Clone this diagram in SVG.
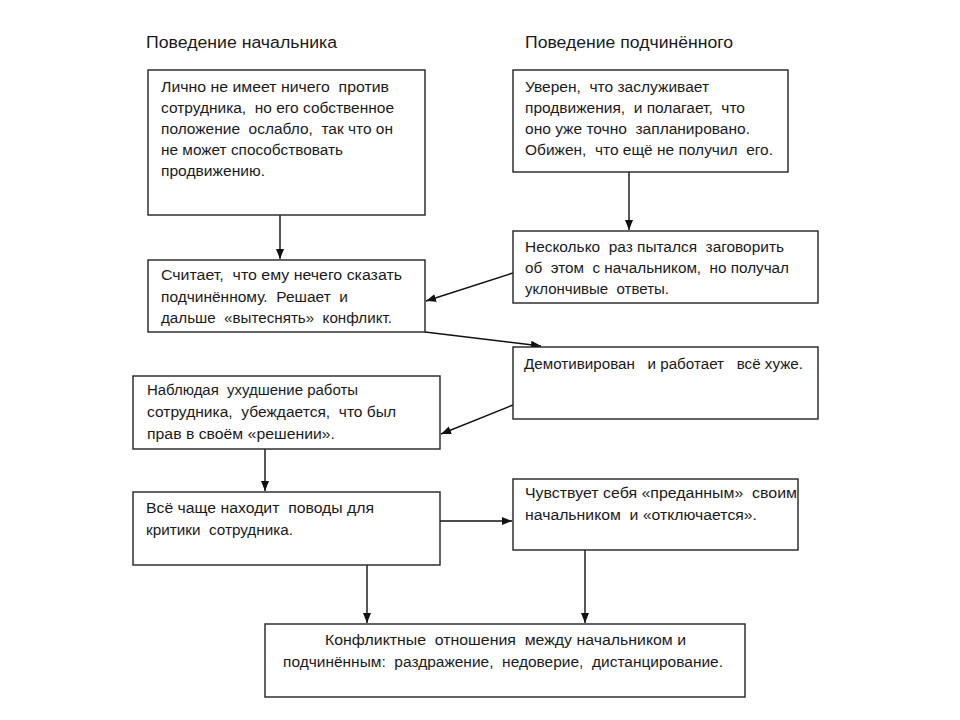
<svg xmlns="http://www.w3.org/2000/svg" width="960" height="720" viewBox="0 0 960 720">
<defs>
<style>
.box{fill:#fff;stroke:#222;stroke-width:1.4}
.t{font-family:"Liberation Sans",Arial,sans-serif;font-size:14px;fill:#1a1a1a;white-space:pre}
.h{font-family:"Liberation Sans",Arial,sans-serif;font-size:16px;fill:#1a1a1a;white-space:pre}
.c{stroke:#111;stroke-width:1.4;fill:none;marker-end:url(#ah)}
</style>
<marker id="ah" markerUnits="userSpaceOnUse" markerWidth="10" markerHeight="10" viewBox="0 0 10 10" refX="10" refY="5" orient="auto">
<path d="M0,1 L10,5 L0,9 Z" fill="#111"/>
</marker>
</defs>
<rect width="960" height="720" fill="#fff"/>
<g id="titles">
<text class="h" x="146" y="48" textLength="191" lengthAdjust="spacingAndGlyphs">Поведение начальника</text>
<text class="h" x="525" y="48" textLength="208" lengthAdjust="spacingAndGlyphs">Поведение подчинённого</text>
</g>
<g id="connectors">
<line class="c" x1="280" y1="215" x2="280" y2="259"/>
<line class="c" x1="629" y1="172" x2="629" y2="230"/>
<line class="c" x1="513" y1="273" x2="426" y2="301"/>
<line class="c" x1="425" y1="332" x2="541" y2="346"/>
<line class="c" x1="513" y1="405" x2="441" y2="434"/>
<line class="c" x1="265" y1="449" x2="265" y2="491"/>
<line class="c" x1="440" y1="521" x2="512" y2="521"/>
<line class="c" x1="367" y1="565" x2="367" y2="623"/>
<line class="c" x1="585" y1="550" x2="585" y2="623"/>
</g>
<g id="n1">
<rect class="box" x="148" y="70" width="277" height="145"/>
<text class="t"><tspan x="161" y="92" textLength="228" lengthAdjust="spacingAndGlyphs">Лично не имеет ничего  против</tspan><tspan x="161" y="113" textLength="233" lengthAdjust="spacingAndGlyphs">сотрудника,  но его собственное</tspan><tspan x="161" y="134" textLength="232" lengthAdjust="spacingAndGlyphs">положение  ослабло,  так что он</tspan><tspan x="161" y="155" textLength="182" lengthAdjust="spacingAndGlyphs">не может способствовать</tspan><tspan x="161" y="176" textLength="104" lengthAdjust="spacingAndGlyphs">продвижению.</tspan></text>
</g>
<g id="n2">
<rect class="box" x="513" y="70" width="275" height="102"/>
<text class="t"><tspan x="525" y="92" textLength="184" lengthAdjust="spacingAndGlyphs">Уверен,  что заслуживает</tspan><tspan x="525" y="113" textLength="220" lengthAdjust="spacingAndGlyphs">продвижения,  и полагает,  что</tspan><tspan x="525" y="134" textLength="225" lengthAdjust="spacingAndGlyphs">оно уже точно  запланировано.</tspan><tspan x="525" y="155" textLength="248" lengthAdjust="spacingAndGlyphs">Обижен,  что ещё не получил  его.</tspan></text>
</g>
<g id="n3">
<rect class="box" x="513" y="231" width="305" height="72"/>
<text class="t"><tspan x="525" y="252" textLength="259" lengthAdjust="spacingAndGlyphs">Несколько  раз пытался  заговорить</tspan><tspan x="525" y="273" textLength="264" lengthAdjust="spacingAndGlyphs">об  этом  с начальником,  но получал</tspan><tspan x="525" y="294" textLength="144" lengthAdjust="spacingAndGlyphs">уклончивые  ответы.</tspan></text>
</g>
<g id="n4">
<rect class="box" x="148" y="260" width="277" height="72"/>
<text class="t"><tspan x="161" y="280" textLength="241" lengthAdjust="spacingAndGlyphs">Считает,  что ему нечего сказать</tspan><tspan x="161" y="302" textLength="187" lengthAdjust="spacingAndGlyphs">подчинённому.  Решает  и</tspan><tspan x="161" y="323" textLength="231" lengthAdjust="spacingAndGlyphs">дальше  «вытеснять»  конфликт.</tspan></text>
</g>
<g id="n5">
<rect class="box" x="513" y="347" width="305" height="72"/>
<text class="t"><tspan x="524" y="369" textLength="279" lengthAdjust="spacingAndGlyphs">Демотивирован   и работает   всё хуже.</tspan></text>
</g>
<g id="n6">
<rect class="box" x="133" y="376" width="307" height="73"/>
<text class="t"><tspan x="147" y="395" textLength="211" lengthAdjust="spacingAndGlyphs">Наблюдая  ухудшение работы</tspan><tspan x="147" y="417" textLength="249" lengthAdjust="spacingAndGlyphs">сотрудника,  убеждается,  что был</tspan><tspan x="147" y="439" textLength="188" lengthAdjust="spacingAndGlyphs">прав в своём «решении».</tspan></text>
</g>
<g id="n7">
<rect class="box" x="133" y="492" width="307" height="73"/>
<text class="t"><tspan x="146" y="513" textLength="228" lengthAdjust="spacingAndGlyphs">Всё чаще находит  поводы для</tspan><tspan x="146" y="535" textLength="147" lengthAdjust="spacingAndGlyphs">критики  сотрудника.</tspan></text>
</g>
<g id="n8">
<rect class="box" x="513" y="479" width="285" height="71"/>
<text class="t"><tspan x="525" y="498" textLength="272" lengthAdjust="spacingAndGlyphs">Чувствует себя «преданным»  своим</tspan><tspan x="525" y="520" textLength="232" lengthAdjust="spacingAndGlyphs">начальником  и «отключается».</tspan></text>
</g>
<g id="n9">
<rect class="box" x="265" y="624" width="480" height="73"/>
<text class="t"><tspan x="325" y="645" textLength="361" lengthAdjust="spacingAndGlyphs">Конфликтные  отношения  между начальником и</tspan><tspan x="283" y="667" textLength="440" lengthAdjust="spacingAndGlyphs">подчинённым:  раздражение,  недоверие,  дистанцирование.</tspan></text>
</g>
</svg>
